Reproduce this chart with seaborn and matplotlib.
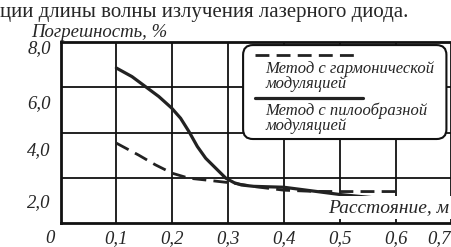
import pandas as pd
import matplotlib.pyplot as plt
import matplotlib.transforms as mtransforms
from matplotlib.patches import FancyBboxPatch
from matplotlib.lines import Line2D
import seaborn as sns

# данные
x_pila = [0.1, 0.128, 0.152, 0.176, 0.199, 0.215, 0.23, 0.245, 0.26, 0.278, 0.296,
          0.311, 0.324, 0.346, 0.4, 0.45, 0.5, 0.55, 0.6]
y_pila = [6.85, 6.47, 6.03, 5.59, 5.08, 4.63, 4.04, 3.38, 2.86, 2.42, 1.98,
          1.78, 1.68, 1.62, 1.58, 1.42, 1.26, 1.14, 1.02]

x_garm = [0.1, 0.14, 0.17, 0.2, 0.23, 0.26, 0.31, 0.35, 0.4, 0.45, 0.5, 0.55, 0.61]
y_garm = [3.53, 3.0, 2.57, 2.2, 1.98, 1.90, 1.76, 1.6, 1.45, 1.40, 1.39, 1.39, 1.39]

xticks = [0, 0.1, 0.2, 0.3, 0.4, 0.5, 0.6, 0.7]
xtick_labels = ["0", "0,1", "0,2", "0,3", "0,4", "0,5", "0,6", "0,7"]
yticks = [2, 4, 6, 8]
ytick_labels = ["2,0", "4,0", "6,0", "8,0"]

legend_garm = "Метод с гармонической\nмодуляцией"
legend_pila = "Метод с пилообразной\nмодуляцией"

df_pila = pd.DataFrame({"x": x_pila, "y": y_pila})
df_garm = pd.DataFrame({"x": x_garm, "y": y_garm})

sns.set_style("white")
plt.rcParams['font.family'] = ['Liberation Serif', 'DejaVu Serif']

fig = plt.figure(figsize=(4.51, 2.47), dpi=100)
ax = fig.add_axes([60.5 / 451, 24 / 247, 391 / 451, 181 / 247])

sns.lineplot(data=df_garm, x="x", y="y", ax=ax, color="#222222",
             linewidth=2.0, linestyle=(0, (5, 2.6)))
sns.lineplot(data=df_pila, x="x", y="y", ax=ax, color="#222222", linewidth=2.3)

ax.set_xlim(0, 0.7)
ax.set_ylim(0, 8)
ax.set_xticks(xticks)
ax.set_xticklabels(xtick_labels, fontsize=13.5, fontstyle="italic")
ax.set_yticks(yticks)
ax.set_yticklabels(ytick_labels, fontsize=13.5, fontstyle="italic")
ax.tick_params(axis="x", length=0, pad=5)
ax.tick_params(axis="y", length=0, pad=7)
ax.set_xlabel("")
ax.set_ylabel("")
ax.grid(True, color="#111111", linewidth=1.3)
ax.set_axisbelow(True)
for side in ["left", "bottom", "top"]:
    ax.spines[side].set_color("#111111")
    ax.spines[side].set_linewidth(2.0)
ax.spines["right"].set_visible(False)

# сдвиги подписей, как в оригинале
y_shift = {"2,0": 23, "4,0": 16, "6,0": 14, "8,0": 5}
for lab in ax.get_yticklabels():
    dy = y_shift.get(lab.get_text(), 0)
    lab.set_transform(lab.get_transform() +
                      mtransforms.ScaledTranslation(0, -dy / 100, fig.dpi_scale_trans))
x_shift = {"0": -11, "0,7": -12}
for lab in ax.get_xticklabels():
    dx = x_shift.get(lab.get_text(), 0)
    lab.set_transform(lab.get_transform() +
                      mtransforms.ScaledTranslation(dx / 100, 0, fig.dpi_scale_trans))

# самодельная легенда
box = FancyBboxPatch((0.467, 0.464), 0.52, 0.519, transform=ax.transAxes,
                     boxstyle="round,pad=0,rounding_size=0.025",
                     mutation_aspect=391 / 181,
                     facecolor="white", edgecolor="#111111", linewidth=1.5, zorder=5)
ax.add_patch(box)
ax.add_line(Line2D([0.497, 0.766], [0.928, 0.928], transform=ax.transAxes,
                   color="#222222", linewidth=2.0, linestyle=(0, (5, 2.6)), zorder=6))
ax.add_line(Line2D([0.497, 0.774], [0.691, 0.691], transform=ax.transAxes,
                   color="#222222", linewidth=2.3, zorder=6))
ax.text(0.524, 0.81, legend_garm, transform=ax.transAxes, fontsize=12,
        fontstyle="italic", va="center", ha="left", linespacing=0.9, zorder=6)
ax.text(0.524, 0.577, legend_pila, transform=ax.transAxes, fontsize=12,
        fontstyle="italic", va="center", ha="left", linespacing=0.9, zorder=6)

ax.text(0.993, 0.06, "Расстояние, м", transform=ax.transAxes, fontsize=14,
        fontstyle="italic", ha="right", va="baseline", zorder=6,
        bbox=dict(facecolor="white", edgecolor="none", pad=2))

fig.text(31 / 451, 1 - 37 / 247, "Погрешность, %", fontsize=13.5,
         fontstyle="italic", ha="left", va="baseline")
fig.text(0.0, 1 - 17 / 247, "ции длины волны излучения лазерного диода.",
         fontsize=15, ha="left", va="baseline")

plt.savefig("out.png", dpi=100)
plt.close()
